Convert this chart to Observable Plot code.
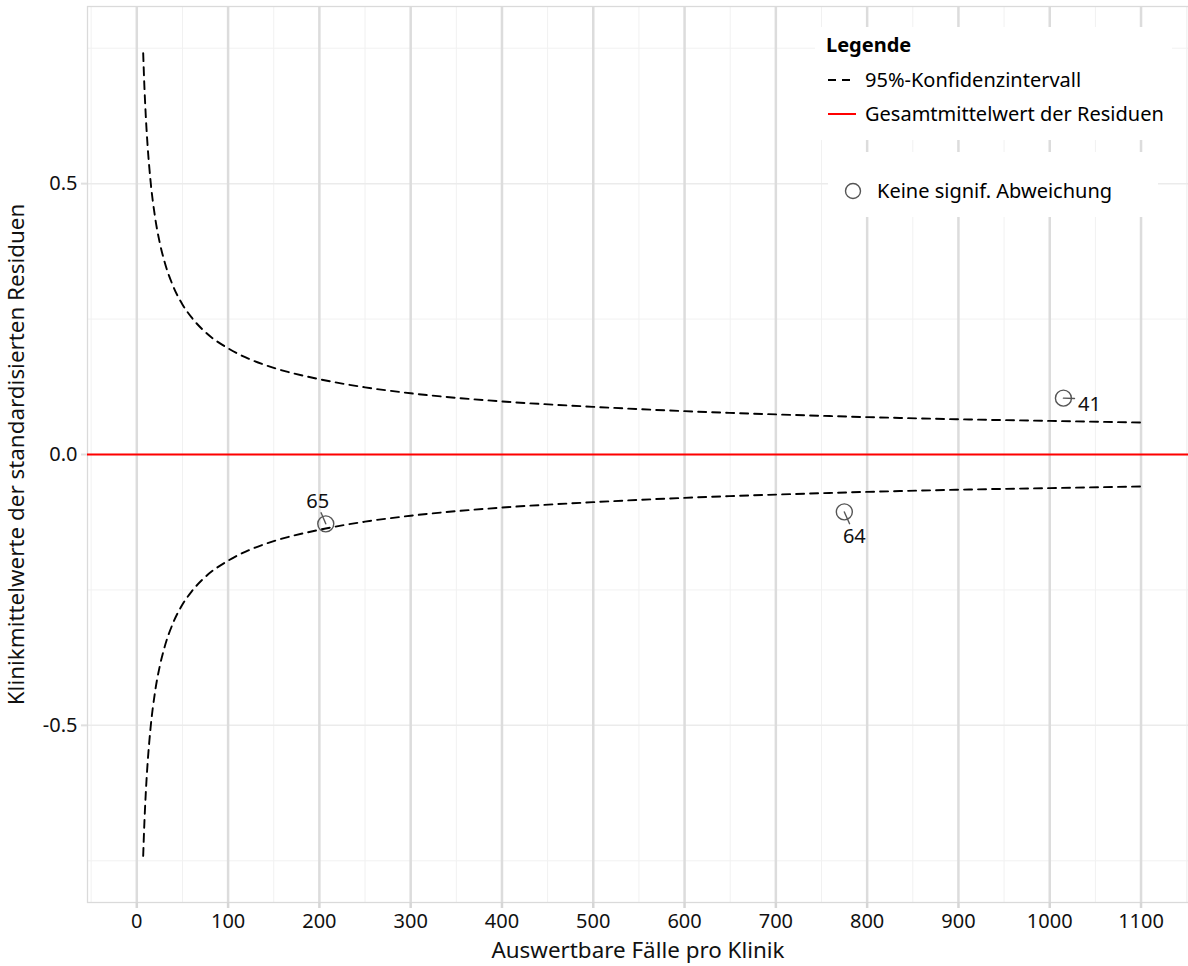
<!DOCTYPE html>
<html><head><meta charset="utf-8">
<script src="https://cdn.jsdelivr.net/npm/d3@7"></script>
<script src="https://cdn.jsdelivr.net/npm/@observablehq/plot@0.6"></script>
<style>
body{margin:0;background:#fff;font-family:"Noto Sans",sans-serif;}
#wrap{position:relative;width:1188px;height:966px;}
.ov{position:absolute;color:#000;font-size:20px;line-height:24px;height:24px;white-space:nowrap;}
.box{position:absolute;background:#fff;}
g[aria-label="x-axis label"], g[aria-label="y-axis label"]{font-size:22.4px;}
</style></head><body><div id="wrap"></div>
<script>
// 95%-Konfidenzintervall
const ciN     = [7, 8, 10, 12, 15, 20, 25, 30, 40, 50, 60, 75, 100, 125, 150, 200, 250, 300, 400, 500, 600, 700, 800, 900, 1000, 1100];
const ciUpper = [0.741, 0.693, 0.620, 0.566, 0.506, 0.438, 0.392, 0.358, 0.310, 0.277, 0.253, 0.226, 0.196, 0.175, 0.160, 0.139, 0.124, 0.113, 0.098, 0.088, 0.080, 0.074, 0.069, 0.065, 0.062, 0.059];
const ciLower = [-0.741, -0.693, -0.620, -0.566, -0.506, -0.438, -0.392, -0.358, -0.310, -0.277, -0.253, -0.226, -0.196, -0.175, -0.160, -0.139, -0.124, -0.113, -0.098, -0.088, -0.080, -0.074, -0.069, -0.065, -0.062, -0.059];
// clinics
const clinicIds  = ["41", "65", "64"];
const clinicN    = [1015, 207, 775];
const clinicMean = [0.104, -0.128, -0.106];
const grandMean = 0;
// ticks / grid
const xMajor = [0, 100, 200, 300, 400, 500, 600, 700, 800, 900, 1000, 1100];
const xMinor = [-50, 50, 150, 250, 350, 450, 550, 650, 750, 850, 950, 1050, 1150];
const yMajor = [-0.5, 0, 0.5];
const yMinor = [-0.75, -0.25, 0.25, 0.75];
const yTickLabels = ["-0.5", "0.0", "0.5"];
const xTitle = "Auswertbare Fälle pro Klinik";
const yTitle = "Klinikmittelwerte der standardisierten Residuen";
const legendTitle = "Legende";
const legendCI = "95%-Konfidenzintervall";
const legendMean = "Gesamtmittelwert der Residuen";
const legendPoint = "Keine signif. Abweichung";

const ci = ciN.map((n, i) => ({n, upper: ciUpper[i], lower: ciLower[i]}));
const clinics = clinicIds.map((id, i) => ({id, n: clinicN[i], m: clinicMean[i]}));
// label placement (styles)
const lab = {
  "41": {dx: 26, dy: 6, len: 12, rot: 92},
  "65": {dx: -8, dy: -22, len: 13, rot: -23},
  "64": {dx: 10, dy: 25, len: 14, rot: 156}
};
const lineShape = {draw(ctx, l) { ctx.moveTo(0, 0); ctx.lineTo(0, -l); }};
const font = '"Noto Sans", sans-serif';

const chart = Plot.plot({
  width: 1188, height: 966,
  marginTop: 6, marginBottom: 64, marginLeft: 87, marginRight: 0,
  style: {fontFamily: font, fontSize: "20px", background: "#fff", color: "#000"},
  x: {domain: [-54, 1152]},
  y: {domain: [-0.827, 0.827]},
  marks: [
    Plot.ruleX(xMinor, {stroke: "#f1f1f1", strokeWidth: 1}),
    Plot.ruleY(yMinor, {stroke: "#f1f1f1", strokeWidth: 1}),
    Plot.ruleY(yMajor, {stroke: "#ebebeb", strokeWidth: 1.5}),
    Plot.ruleX(xMajor, {stroke: "#dcdcdc", strokeWidth: 2.5}),
    Plot.frame({stroke: "#dadada", strokeWidth: 1.3}),
    Plot.axisX({ticks: xMajor, tickSize: 6, tickPadding: 5, stroke: "#d6d6d6", strokeWidth: 2.5, fill: "#111", fontSize: 20,
      label: xTitle, labelArrow: "none", labelAnchor: "center", labelOffset: 55, tickFormat: d => String(d)}),
    Plot.axisY({ticks: yMajor, tickSize: 6, tickPadding: 4, stroke: "#e0e0e0", strokeWidth: 2, fill: "#111", fontSize: 20,
      tickFormat: (d) => yTickLabels[yMajor.indexOf(d)],
      label: yTitle, labelArrow: "none", labelAnchor: "center", labelOffset: 79}),
    Plot.ruleY([grandMean], {stroke: "#ff0000", strokeWidth: 2}),
    Plot.line(ci, {x: "n", y: "upper", stroke: "#000", strokeWidth: 1.9, strokeDasharray: "8,6", curve: "monotone-x"}),
    Plot.line(ci, {x: "n", y: "lower", stroke: "#000", strokeWidth: 1.9, strokeDasharray: "8,6", curve: "monotone-x"}),
    Plot.dot(clinics, {x: "n", y: "m", r: 8, stroke: "#555", strokeWidth: 1.4, fill: "none"}),
    Plot.vector(clinics, {x: "n", y: "m", anchor: "start", shape: lineShape, length: d => lab[d.id].len, rotate: d => lab[d.id].rot, stroke: "#555", strokeWidth: 1.4}),
    ...clinicIds.map(id => Plot.text(clinics.filter(d => d.id === id), {x: "n", y: "m", text: "id", dx: lab[id].dx, dy: lab[id].dy, fontSize: 20, fill: "#111"}))
  ]
});
const wrap = document.getElementById("wrap");
wrap.appendChild(chart);

function add(html) { wrap.insertAdjacentHTML("beforeend", html); }
add(`<div class="box" style="left:815px;top:27px;width:357px;height:113px"></div>`);
add(`<div class="box" style="left:828px;top:152px;width:330px;height:65px"></div>`);
add(`<div class="ov" style="left:826px;top:33px;font-weight:bold">${legendTitle}</div>`);
add(`<svg style="position:absolute;left:826px;top:74px" width="32" height="12"><line x1="2" y1="6" x2="30" y2="6" stroke="#000" stroke-width="2" stroke-dasharray="8,6"/></svg>`);
add(`<div class="ov" style="left:865px;top:68px">${legendCI}</div>`);
add(`<svg style="position:absolute;left:826px;top:108px" width="32" height="12"><line x1="2" y1="6" x2="30" y2="6" stroke="#ff0000" stroke-width="2"/></svg>`);
add(`<div class="ov" style="left:865px;top:102px">${legendMean}</div>`);
add(`<svg style="position:absolute;left:843px;top:181px" width="20" height="20"><circle cx="10" cy="10" r="7.5" fill="none" stroke="#555" stroke-width="1.4"/></svg>`);
add(`<div class="ov" style="left:877px;top:179px">${legendPoint}</div>`);
</script></body></html>
